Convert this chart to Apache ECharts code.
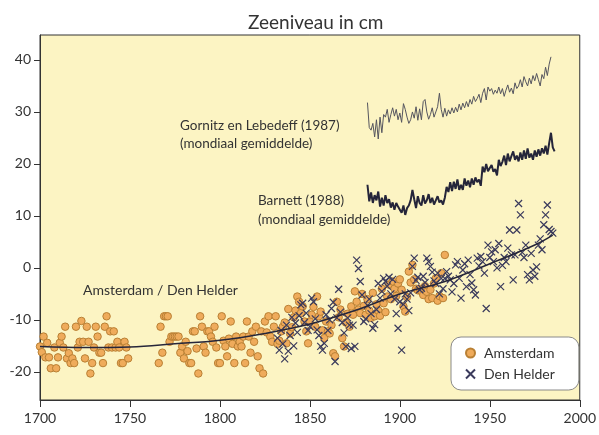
<!DOCTYPE html>
<html>
<head>
<meta charset="utf-8">
<script src="https://cdn.jsdelivr.net/npm/echarts@6/dist/echarts.min.js"></script>
<style>
  html, body { margin: 0; padding: 0; background: #ffffff; }
  #chart { width: 599px; height: 435px; }
</style>
</head>
<body>
<div id="chart"></div>
<script>
// Zeeniveau (cm) – wereldgemiddelden en metingen Amsterdam / Den Helder

const xTicks = [1700, 1750, 1800, 1850, 1900, 1950, 2000];
const yTicks = [-20, -10, 0, 10, 20, 30, 40];

// Gornitz en Lebedeff (1987), jaarwaarden vanaf 1882
const gornitzStart = 1882;
const gornitz = [
  31.8, 27.0, 26.5, 27.8, 25.2, 28.5, 24.8, 29.0, 26.0, 29.5,
  29.0, 30.5, 28.0, 29.5, 30.8, 29.2, 30.5, 28.5, 29.8, 28.0,
  31.6, 30.5, 29.0, 27.8, 28.5, 30.0, 28.8, 31.0, 28.4, 30.6,
  28.5, 32.0, 32.4, 30.0, 28.6, 29.5, 30.8, 29.0, 30.0, 31.0,
  33.6, 30.5, 29.0, 30.7, 29.2, 30.4, 29.6, 30.8, 29.8, 30.9,
  30.0, 31.5, 30.4, 31.7, 30.8, 32.0, 31.0, 32.4, 31.5, 33.0,
  32.0, 32.6, 33.4, 31.8, 33.6, 34.5, 32.3, 34.8, 34.0, 34.5,
  33.4, 34.2, 33.6, 34.8, 33.5, 34.5, 33.0, 34.2, 35.2, 33.8,
  34.6, 33.5, 35.6, 34.5, 35.0, 36.2, 34.8, 36.8, 35.8, 35.0,
  36.5, 35.4, 37.0, 36.0, 37.4, 36.2, 35.0, 37.2, 36.4, 38.6,
  37.0, 39.2, 40.6
];

// Barnett (1988), jaarwaarden vanaf 1882
const barnettStart = 1882;
const barnett = [
  16.0, 12.8, 14.5, 12.5, 14.0, 13.0, 14.7, 11.8, 13.5, 12.0,
  14.0, 12.5, 13.2, 11.6, 12.6, 11.2, 12.5, 11.8, 11.2, 10.6,
  12.0, 10.2, 11.5, 12.0, 13.0, 15.0, 13.2, 11.5, 13.8, 12.5,
  12.0, 14.0, 12.4, 13.0, 14.2, 12.5, 13.5, 12.2, 13.0, 13.8,
  12.6, 13.0, 12.2, 13.5, 15.6, 14.6, 16.5, 14.8, 16.6, 15.2,
  17.0, 15.0, 16.0, 15.0, 17.2, 15.8, 16.8, 15.5, 17.2, 16.0,
  17.4, 16.5, 17.0, 15.8, 19.5, 18.4, 20.0, 18.6, 19.2, 19.8,
  18.5, 19.0, 17.8, 20.8, 19.6, 20.4, 21.6, 19.8, 22.0, 20.5,
  21.5, 22.4, 20.8, 21.6, 20.5, 22.2, 20.8, 22.6, 21.0, 23.0,
  21.2, 22.0, 20.8, 22.6, 21.4, 22.8, 21.6, 23.0, 22.0, 23.5,
  21.8, 24.0, 26.0, 23.2, 22.4
];

// Amsterdam: [jaar, cm]
const amsterdam = [
  [1700,-15.1],[1701,-16.2],[1702,-13.2],[1703,-17.2],[1704,-14.4],[1705,-17.2],[1706,-19.3],
  [1708,-15.3],[1709,-19.3],[1710,-17.2],[1711,-14.4],[1712,-13.2],[1713,-15.3],[1714,-11.3],
  [1715,-17.4],[1716,-16.4],[1717,-18.3],[1718,-17.4],[1719,-18.3],[1720,-11.3],[1721,-15.3],
  [1722,-14.2],[1723,-10.2],[1724,-14.2],[1725,-17.4],[1726,-11.3],[1727,-14.2],[1728,-20.3],
  [1729,-18.3],[1730,-15.3],[1731,-11.3],[1732,-13.2],[1733,-16.3],[1734,-16.3],[1735,-18.3],
  [1736,-11.3],[1737,-9.3],[1738,-15.3],[1739,-12.2],[1740,-15.3],[1741,-12.2],[1742,-15.3],
  [1743,-14.2],[1744,-15.3],[1745,-18.3],[1746,-18.3],[1747,-14.2],[1748,-15.3],[1749,-17.4],
  [1766,-18.3],[1767,-11.3],[1768,-16.3],[1769,-9.3],[1770,-9.3],[1771,-9.3],[1772,-14.2],
  [1773,-13.2],[1774,-13.2],[1775,-13.2],[1776,-13.2],[1777,-13.2],[1778,-16.3],[1779,-15.1],
  [1780,-17.4],[1781,-14.2],[1782,-16.0],[1783,-18.3],[1784,-18.3],[1785,-12.2],[1786,-12.2],
  [1787,-15.5],[1788,-20.3],[1789,-9.3],[1790,-11.3],[1791,-15.1],[1792,-16.3],[1793,-12.2],
  [1794,-12.2],[1795,-13.2],[1796,-14.2],[1797,-11.3],[1798,-15.3],[1799,-18.3],[1800,-18.3],
  [1801,-9.3],[1802,-14.0],[1803,-15.1],[1804,-17.0],[1805,-13.6],[1806,-10.3],[1807,-14.6],
  [1808,-18.3],[1809,-13.2],[1810,-15.1],[1811,-14.2],[1812,-15.1],[1813,-13.2],[1814,-18.3],
  [1815,-10.3],[1816,-13.2],[1817,-16.3],[1818,-12.2],[1819,-14.2],[1820,-11.3],[1821,-17.0],
  [1822,-19.3],[1823,-12.2],[1824,-20.3],[1825,-10.3],[1826,-12.4],[1827,-9.3],[1828,-13.2],
  [1829,-14.2],[1830,-11.3],[1831,-9.3],[1832,-14.6],[1833,-14.0],[1834,-12.2],[1835,-11.3],
  [1836,-10.5],[1837,-14.5],[1838,-7.9],[1839,-12.6],[1840,-11.4],[1841,-9.5],[1842,-8.2],
  [1843,-5.5],[1844,-6.5],[1845,-8.7],[1846,-7.4],[1847,-10.3],[1848,-12.2],[1849,-14.5],
  [1850,-10.3],[1851,-9.0],[1852,-7.5],[1853,-11.3],[1854,-5.5],[1855,-9.3],[1856,-8.4],
  [1857,-12.0],[1858,-13.5],[1859,-10.3],[1860,-12.2],[1861,-12.6],[1862,-11.0],[1863,-16.4],
  [1864,-17.0],[1865,-6.5],[1866,-9.5],[1867,-8.0],[1868,-13.5],[1869,-15.1],[1870,-10.5],
  [1871,-8.8],[1872,-11.3],[1873,-7.4],[1874,-9.0],[1875,-4.5],[1876,-6.5],[1877,-8.0],
  [1878,-8.7],[1879,-5.0],[1880,-7.3],[1881,-9.0],[1882,-6.0],[1883,-8.2],[1884,-9.6],
  [1885,-4.8],[1886,-9.3],[1887,-7.0],[1888,-8.2],[1889,-9.2],[1890,-4.0],[1891,-6.8],
  [1892,-8.5],[1893,-5.5],[1894,-3.2],[1895,-6.0],[1896,-2.6],[1897,-4.0],[1898,-5.4],
  [1899,-3.0],[1900,-2.2],[1901,-4.2],[1902,-7.4],[1903,-8.4],[1904,-5.6],[1905,-0.7],
  [1906,-2.8],[1907,0.6],[1908,-2.2],[1909,-4.0],[1910,-4.3],[1911,-4.0],[1912,-4.5],
  [1913,-5.2],[1914,-3.5],[1915,-4.6],[1916,-6.0],[1917,-4.2],[1918,-5.8],[1919,-3.0],
  [1920,-2.0],[1921,-6.3],[1922,-5.4],[1923,-1.0],[1924,-5.8],[1925,2.5]
];

// Den Helder: [jaar, cm]
const denHelder = [
  [1832,-13.5],[1833,-15.8],[1834,-12.0],[1835,-14.6],[1836,-17.5],[1837,-11.0],[1838,-16.0],
  [1839,-13.0],[1840,-9.5],[1841,-15.0],[1842,-10.6],[1843,-12.4],[1844,-9.2],[1845,-7.1],
  [1846,-6.8],[1847,-10.5],[1848,-8.7],[1849,-12.0],[1850,-11.3],[1851,-5.8],[1852,-6.5],
  [1853,-9.8],[1854,-11.9],[1855,-13.0],[1856,-15.1],[1857,-15.8],[1858,-14.5],[1859,-9.0],
  [1860,-12.0],[1861,-10.0],[1862,-7.8],[1863,-6.6],[1864,-18.0],[1865,-9.6],[1866,-4.1],
  [1867,-8.5],[1868,-10.5],[1869,-12.5],[1870,-15.1],[1871,-9.6],[1872,-11.0],[1873,-15.5],
  [1874,-11.0],[1875,-15.1],[1876,1.5],[1877,-0.1],[1878,-2.6],[1879,-5.2],[1880,-10.3],
  [1881,-9.8],[1882,-7.2],[1883,-6.0],[1884,-8.8],[1885,-11.6],[1886,-10.9],[1887,-8.0],
  [1888,-3.0],[1889,-5.8],[1890,-4.5],[1891,-2.0],[1892,-2.6],[1893,-3.5],[1894,-1.8],
  [1895,-5.0],[1896,-2.2],[1897,-6.0],[1898,-8.8],[1899,-11.6],[1900,-6.5],[1901,-15.8],
  [1902,-7.0],[1903,-5.0],[1904,-6.0],[1905,-8.2],[1906,-4.8],[1907,0.3],[1908,1.9],
  [1909,-2.4],[1910,-1.8],[1911,-4.2],[1912,-3.9],[1913,-1.6],[1914,-2.8],[1915,1.9],
  [1916,1.2],[1917,0.3],[1918,-0.8],[1919,-2.5],[1920,-3.0],[1921,-1.0],[1922,-5.0],
  [1923,-2.0],[1924,-4.0],[1925,-2.0],[1926,-0.7],[1927,-1.6],[1928,-2.3],[1929,-4.6],
  [1930,-3.0],[1931,0.6],[1932,1.2],[1933,-2.0],[1934,-5.8],[1935,-0.4],[1936,0.8],
  [1937,-3.6],[1938,1.5],[1939,-1.3],[1940,-2.9],[1941,-4.2],[1942,-5.2],[1943,1.9],
  [1944,0.4],[1945,2.2],[1946,1.2],[1947,-1.0],[1948,-7.8],[1949,4.4],[1950,2.0],
  [1951,3.1],[1952,1.2],[1953,3.5],[1954,0.0],[1955,4.7],[1956,-3.6],[1957,0.5],
  [1958,2.0],[1959,1.2],[1960,3.8],[1961,7.3],[1962,2.5],[1963,-2.3],[1964,2.5],
  [1965,7.3],[1966,12.4],[1967,10.2],[1968,3.0],[1969,2.0],[1970,4.4],[1971,-1.3],
  [1972,-2.3],[1973,2.8],[1974,-0.4],[1975,-1.6],[1976,0.2],[1977,4.4],[1978,5.6],
  [1979,3.5],[1980,8.3],[1981,10.2],[1982,12.1],[1983,7.4],[1984,7.0],[1985,6.7]
];

// Vereffende trendlijn door beide reeksen
const trendYears = [1700, 1725, 1750, 1775, 1800, 1825, 1850, 1875, 1900, 1925, 1950, 1975, 1985];
const trendValues = [-15.1, -15.3, -15.2, -14.6, -13.9, -12.6, -10.8, -8.2, -5.0, -2.6, 0.8, 4.4, 6.3];

const toPairs = (start, values) => values.map((v, i) => [start + i, v]);

const FONT = 'Lato';
const TEXT = '#333333';

const chart = echarts.init(document.getElementById('chart'), null, { renderer: 'canvas' });

chart.setOption({
  animation: false,
  backgroundColor: '#ffffff',
  textStyle: { fontFamily: FONT },
  title: {
    text: 'Zeeniveau in cm',
    left: 243,
    top: 8,
    textStyle: { fontFamily: FONT, fontSize: 19, fontWeight: 'normal', color: TEXT }
  },
  grid: {
    left: 40, right: 19, top: 35, bottom: 35,
    show: true,
    backgroundColor: '#fcf4c3',
    borderColor: '#333333',
    borderWidth: 1
  },
  legend: {
    orient: 'vertical',
    left: 451,
    top: 337,
    data: ['Amsterdam', 'Den Helder'],
    backgroundColor: '#ffffff',
    borderColor: '#8a8a8a',
    borderWidth: 1,
    borderRadius: 10,
    padding: [9, 24, 9, 14],
    itemWidth: 9,
    itemHeight: 9,
    itemGap: 7,
    textStyle: { fontFamily: FONT, fontSize: 14, color: TEXT, padding: [0, 0, 0, 4] }
  },
  xAxis: {
    type: 'value',
    min: xTicks[0],
    max: xTicks[xTicks.length - 1],
    interval: 50,
    axisLine: { show: true, onZero: false, lineStyle: { color: '#333333', width: 1 } },
    axisTick: { show: true, inside: false, length: 7, lineStyle: { color: '#333333' } },
    axisLabel: { color: TEXT, fontSize: 14, fontFamily: FONT, margin: 11, formatter: v => String(v) },
    splitLine: { show: false }
  },
  yAxis: {
    type: 'value',
    min: -25.4,
    max: 44.8,
    axisLine: { show: true, onZero: false, lineStyle: { color: '#333333', width: 1 } },
    axisTick: { show: true, inside: false, length: 6, customValues: yTicks, lineStyle: { color: '#333333' } },
    axisLabel: { color: TEXT, fontSize: 14, fontFamily: FONT, margin: 9, customValues: yTicks },
    splitLine: { show: false }
  },
  graphic: [
    { type: 'text', left: 180, top: 119, style: { text: 'Gornitz en Lebedeff (1987)', fontFamily: FONT, fontSize: 13.5, fill: TEXT } },
    { type: 'text', left: 180, top: 137, style: { text: '(mondiaal gemiddelde)', fontFamily: FONT, fontSize: 13.5, fill: TEXT } },
    { type: 'text', left: 258, top: 194, style: { text: 'Barnett (1988)', fontFamily: FONT, fontSize: 13.5, fill: TEXT } },
    { type: 'text', left: 258, top: 213, style: { text: '(mondiaal gemiddelde)', fontFamily: FONT, fontSize: 13.5, fill: TEXT } },
    { type: 'text', left: 83, top: 283, style: { text: 'Amsterdam / Den Helder', fontFamily: FONT, fontSize: 14, fill: TEXT } }
  ],
  series: [
    {
      name: 'Amsterdam',
      type: 'scatter',
      data: amsterdam,
      symbol: 'circle',
      symbolSize: 7.5,
      itemStyle: { color: '#efab5b', borderColor: '#b98034', borderWidth: 1, opacity: 1 },
      z: 2
    },
    {
      name: 'Den Helder',
      type: 'scatter',
      data: denHelder,
      symbol: 'path://M0,0L10,10M10,0L0,10',
      symbolSize: 7,
      itemStyle: { color: 'rgba(0,0,0,0)', borderColor: '#3a3a5c', borderWidth: 1.2, opacity: 1 },
      z: 3
    },
    {
      name: 'Trend',
      type: 'line',
      data: trendYears.map((y, i) => [y, trendValues[i]]),
      smooth: 0.4,
      showSymbol: false,
      lineStyle: { color: '#26263a', width: 1.5 },
      z: 4
    },
    {
      name: 'Gornitz en Lebedeff (1987)',
      type: 'line',
      data: toPairs(gornitzStart, gornitz),
      showSymbol: false,
      lineStyle: { color: '#55555f', width: 1 },
      z: 4
    },
    {
      name: 'Barnett (1988)',
      type: 'line',
      data: toPairs(barnettStart, barnett),
      showSymbol: false,
      lineStyle: { color: '#25253a', width: 2 },
      z: 4
    }
  ]
});
</script>
</body>
</html>
